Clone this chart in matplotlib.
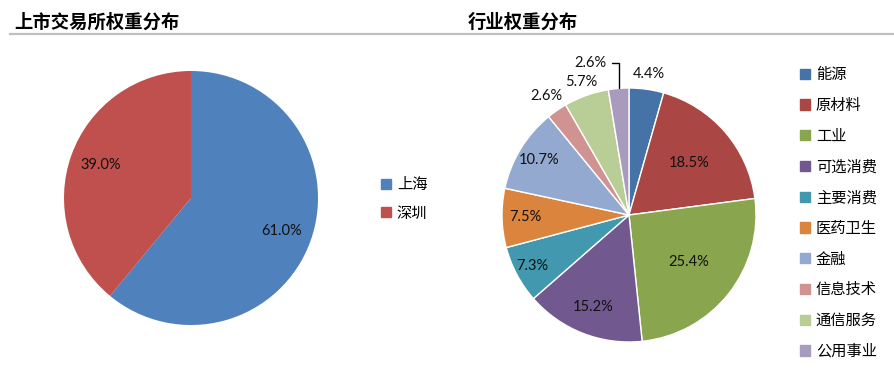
import numpy as np
import matplotlib
matplotlib.use('Agg')
import matplotlib.pyplot as plt
from matplotlib.lines import Line2D
from matplotlib.patches import Patch

plt.rcParams['font.family'] = ['Noto Sans CJK SC', 'DejaVu Sans']

# data
exchanges = ['上海', '深圳']
exchange_weights = [61.0, 39.0]
exchange_colors = ['#4F81BD', '#C0504D']

sectors = ['能源', '原材料', '工业', '可选消费', '主要消费', '医药卫生',
           '金融', '信息技术', '通信服务', '公用事业']
sector_weights = [4.4, 18.5, 25.4, 15.2, 7.3, 7.5, 10.7, 2.6, 5.7, 2.6]
sector_colors = ['#4572A7', '#AA4643', '#89A54E', '#71588F', '#4198AF',
                 '#DB843D', '#93A9CF', '#D19392', '#B9CD96', '#A99BBD']

# label distance from centre (pie radius = 1), None -> leader line
sector_label_r = [1.12, 0.63, 0.6, 0.78, 0.86, 0.82, 0.83, 1.14, 1.11, None]

W, H = 894, 370
fig = plt.figure(figsize=(W / 100, H / 100), dpi=100)


def px_axes(x, y, w, h):
    return fig.add_axes([x / W, 1 - (y + h) / H, w / W, h / H])


def mid_angles(vals):
    vals = np.asarray(vals, dtype=float)
    cum = np.cumsum(vals) - vals / 2
    return np.deg2rad(90 - 360 * cum / vals.sum())


num_font = dict(family=['Lato', 'DejaVu Sans'], fontsize=10.5, color='#111111')

# titles + rule
fig.text(14 / W, 1 - 22 / H, '上市交易所权重分布', fontsize=13.2, fontweight='bold',
         va='center', ha='left')
fig.text(468 / W, 1 - 22 / H, '行业权重分布', fontsize=13.2, fontweight='bold',
         va='center', ha='left')
fig.add_artist(Line2D([10 / W, 1], [1 - 34 / H] * 2, color='#BFBFBF', lw=1.6,
                      transform=fig.transFigure))

# left pie
ax1 = px_axes(64, 71, 254, 254)
w1, _ = ax1.pie(exchange_weights, colors=exchange_colors, startangle=90,
                counterclock=False, radius=1)
ax1.set_xlim(-1, 1)
ax1.set_ylim(-1, 1)
for a, v in zip(mid_angles(exchange_weights), exchange_weights):
    ax1.text(0.76 * np.cos(a), 0.76 * np.sin(a), f'{v:.1f}%', ha='center',
             va='center', **num_font)
ax1.legend(handles=[Patch(color=c, label=l) for c, l in zip(exchange_colors, exchanges)],
           loc='center left', bbox_to_anchor=(367 / W, 1 - 199 / H),
           bbox_transform=fig.transFigure, frameon=False, fontsize=11,
           handlelength=0.65, handleheight=0.65, handletextpad=0.4,
           labelspacing=0.75)

# right pie
ax2 = px_axes(502, 88, 254, 254)
w2, _ = ax2.pie(sector_weights, colors=sector_colors, startangle=90,
                counterclock=False, radius=1,
                wedgeprops=dict(edgecolor='white', linewidth=1))
ax2.set_xlim(-1, 1)
ax2.set_ylim(-1, 1)
for a, v, r in zip(mid_angles(sector_weights), sector_weights, sector_label_r):
    if r is None:
        ax2.annotate(f'{v:.1f}%', xy=(np.cos(a), np.sin(a)),
                     xytext=(-0.18, 1.2), ha='right', va='center',
                     arrowprops=dict(arrowstyle='-', color='black', lw=1,
                                     shrinkA=2, shrinkB=0,
                                     connectionstyle='angle,angleA=0,angleB=90,rad=0'),
                     **num_font)
    else:
        ax2.text(r * np.cos(a), r * np.sin(a), f'{v:.1f}%', ha='center',
                 va='center', **num_font)
ax2.legend(handles=[Patch(color=c, label=l) for c, l in zip(sector_colors, sectors)],
           loc='center left', bbox_to_anchor=(786 / W, 1 - 213 / H),
           bbox_transform=fig.transFigure, frameon=False, fontsize=11,
           handlelength=0.65, handleheight=0.65, handletextpad=0.4,
           labelspacing=0.9)

fig.savefig('out.png', dpi=100)
